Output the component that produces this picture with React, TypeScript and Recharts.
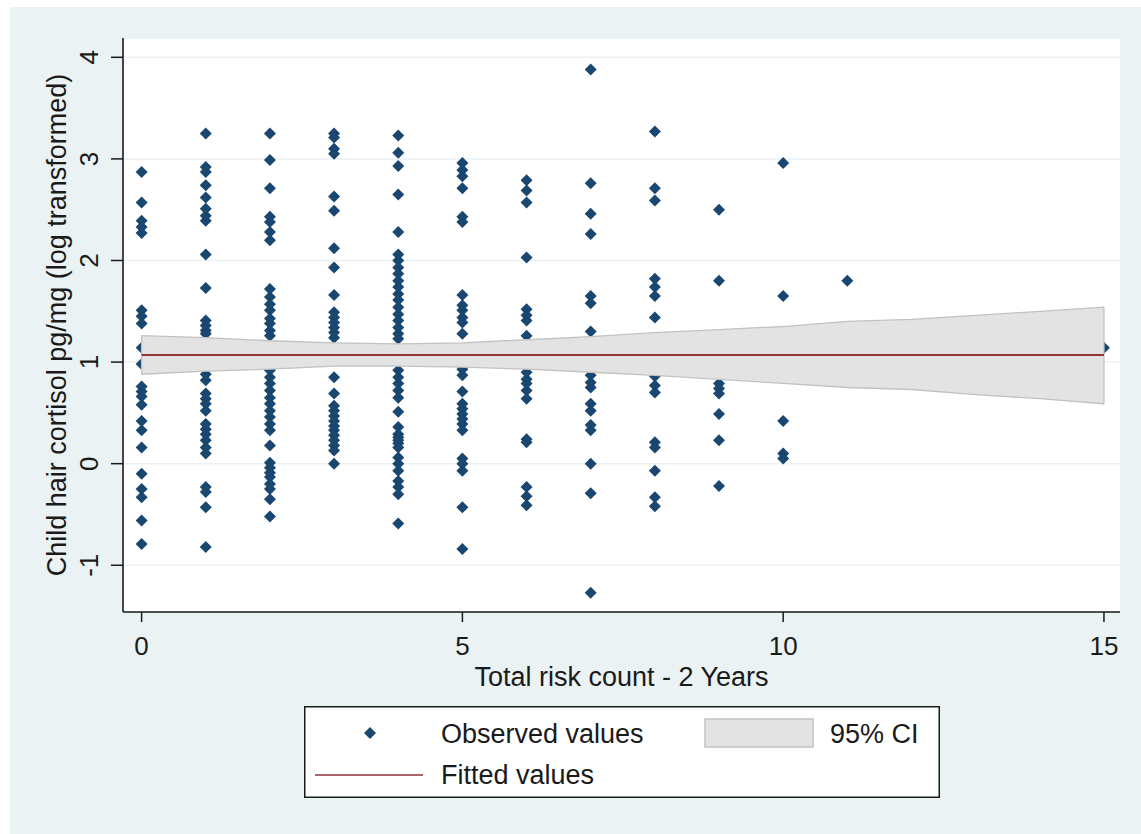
import React from "react";
import {
  ComposedChart,
  Scatter,
  Area,
  Line,
  XAxis,
  YAxis,
  CartesianGrid,
  Legend,
  Label,
  ReferenceLine,
} from "recharts";

// observed cortisol values, one array per risk count
const risk0 = [2.87, 2.57, 2.39, 2.33, 2.27, 1.51, 1.45, 1.38, 1.14, 0.98, 0.76, 0.71, 0.66, 0.58, 0.42, 0.33, 0.16, -0.1, -0.25, -0.33, -0.56, -0.79];
const risk1 = [3.25, 2.92, 2.87, 2.74, 2.62, 2.51, 2.44, 2.39, 2.06, 1.73, 1.41, 1.36, 1.31, 1.28, 1.1, 0.88, 0.82, 0.69, 0.64, 0.59, 0.52, 0.39, 0.34, 0.29, 0.23, 0.16, 0.1, -0.23, -0.28, -0.43, -0.82];
const risk2 = [3.25, 2.99, 2.71, 2.43, 2.38, 2.28, 2.2, 1.72, 1.64, 1.57, 1.51, 1.43, 1.38, 1.31, 1.26, 1.15, 1.05, 0.92, 0.85, 0.79, 0.72, 0.65, 0.59, 0.52, 0.46, 0.39, 0.33, 0.18, 0.01, -0.04, -0.09, -0.13, -0.2, -0.25, -0.35, -0.52];
const risk3 = [3.25, 3.21, 3.1, 3.05, 2.63, 2.49, 2.12, 1.93, 1.66, 1.49, 1.44, 1.39, 1.34, 1.29, 1.24, 1.1, 0.85, 0.69, 0.57, 0.52, 0.47, 0.42, 0.37, 0.33, 0.28, 0.23, 0.18, 0.13, 0.0];
const risk4 = [3.23, 3.06, 2.93, 2.65, 2.28, 2.06, 2.0, 1.93, 1.87, 1.8, 1.74, 1.67, 1.61, 1.54, 1.47, 1.41, 1.34, 1.28, 1.23, 1.05, 0.92, 0.85, 0.79, 0.72, 0.65, 0.51, 0.36, 0.29, 0.26, 0.23, 0.2, 0.16, 0.06, 0.0, -0.07, -0.17, -0.23, -0.3, -0.59];
const risk5 = [2.96, 2.89, 2.83, 2.71, 2.43, 2.38, 1.66, 1.56, 1.51, 1.44, 1.39, 1.28, 1.08, 0.93, 0.87, 0.71, 0.59, 0.54, 0.49, 0.44, 0.39, 0.33, 0.05, 0.0, -0.07, -0.43, -0.84];
const risk6 = [2.79, 2.69, 2.57, 2.03, 1.52, 1.46, 1.41, 1.26, 0.9, 0.83, 0.79, 0.72, 0.64, 0.24, 0.21, -0.23, -0.32, -0.41];
const risk7 = [3.88, 2.76, 2.46, 2.26, 1.65, 1.58, 1.3, 0.87, 0.8, 0.75, 0.59, 0.52, 0.38, 0.33, 0.0, -0.29, -1.27];
const risk8 = [3.27, 2.71, 2.59, 1.82, 1.74, 1.65, 1.44, 0.86, 0.77, 0.7, 0.21, 0.16, -0.07, -0.33, -0.42];
const risk9 = [2.5, 1.8, 0.79, 0.74, 0.69, 0.49, 0.23, -0.22];
const risk10 = [2.96, 1.65, 0.42, 0.1, 0.05];
const risk11 = [1.8];
const risk15 = [1.14];

const observedColumns: [number, number[]][] = [
  [0, risk0], [1, risk1], [2, risk2], [3, risk3], [4, risk4], [5, risk5], [6, risk6],
  [7, risk7], [8, risk8], [9, risk9], [10, risk10], [11, risk11], [15, risk15],
];

const fitX = [0, 1, 2, 3, 4, 5, 6, 7, 8, 9, 10, 11, 12, 13, 14, 15];
const ciLow = [0.88, 0.91, 0.93, 0.96, 0.96, 0.95, 0.93, 0.9, 0.87, 0.83, 0.79, 0.75, 0.73, 0.68, 0.64, 0.59];
const ciHigh = [1.26, 1.24, 1.21, 1.19, 1.18, 1.19, 1.22, 1.25, 1.29, 1.32, 1.35, 1.4, 1.42, 1.46, 1.5, 1.54];
const fitted = [1.07, 1.07, 1.07, 1.07, 1.07, 1.07, 1.07, 1.07, 1.07, 1.07, 1.07, 1.07, 1.07, 1.07, 1.07, 1.07];

const xTicks = [0, 5, 10, 15];
const yTicks = [-1, 0, 1, 2, 3, 4];

const observed = observedColumns.flatMap(([x, ys]) => ys.map((y) => ({ x, y })));
const fitData = fitX.map((x, i) => ({ x, ci: [ciLow[i], ciHigh[i]], fit: fitted[i] }));

const FONT = '"Liberation Sans", Arial, sans-serif';
const NAVY = "#1a476f";
const MAROON = "#90353b";
const BAND = "#e3e3e3";
const BAND_EDGE = "#c2c2c2";
const PANEL = "#eaf2f3";
const INK = "#1a1a1a";

function Diamond(props: any) {
  const { cx, cy } = props;
  if (cx == null || cy == null) return null;
  const r = 6;
  return <path d={`M${cx},${cy - r}L${cx + r},${cy}L${cx},${cy + r}L${cx - r},${cy}Z`} fill={NAVY} />;
}

function XTick({ x, y, payload }: any) {
  return (
    <text x={x} y={y + 33} textAnchor="middle" fontSize={26} fontFamily={FONT} fill={INK}>
      {payload.value}
    </text>
  );
}

function YTick({ x, y, payload }: any) {
  const tx = x - 13;
  return (
    <text x={tx} y={y} transform={`rotate(-90 ${tx} ${y})`} textAnchor="middle" fontSize={26} fontFamily={FONT} fill={INK}>
      {payload.value}
    </text>
  );
}

function XTitle(props: any) {
  const vb = props.viewBox || { x: 123, y: 612, width: 997 };
  return (
    <text x={vb.x + vb.width / 2} y={vb.y + 74} textAnchor="middle" fontSize={27} fontFamily={FONT} fill={INK}>
      Total risk count - 2 Years
    </text>
  );
}

function YTitle(props: any) {
  const vb = props.viewBox || { x: 0, y: 38, height: 574 };
  const tx = vb.x + 66;
  const ty = vb.y + vb.height / 2;
  return (
    <text x={tx} y={ty} transform={`rotate(-90 ${tx} ${ty})`} textAnchor="middle" fontSize={27} fontFamily={FONT} fill={INK}>
      Child hair cortisol pg/mg (log transformed)
    </text>
  );
}

function StataLegend() {
  const txt = { fontSize: 27, fontFamily: FONT, fill: INK };
  return (
    <svg width={636} height={92} style={{ display: "block" }}>
      <rect x={0.75} y={0.75} width={634.5} height={90.5} fill="#fff" stroke={INK} strokeWidth={1.5} />
      <Diamond cx={66} cy={27} />
      <text x={137} y={37} {...txt}>Observed values</text>
      <rect x={401} y={13} width={108} height={28} fill={BAND} stroke={BAND_EDGE} strokeWidth={1.5} />
      <text x={526} y={37} {...txt}>95% CI</text>
      <line x1={11} x2={119} y1={69} y2={69} stroke={MAROON} strokeWidth={1.5} />
      <text x={137} y={78} {...txt}>Fitted values</text>
    </svg>
  );
}

export default function App() {
  return (
    <div style={{ position: "absolute", left: 0, top: 0, width: 1141, height: 834, background: "#fff" }}>
      <div style={{ position: "absolute", left: 10, top: 7, right: 0, bottom: 0, background: PANEL }} />
      <div style={{ position: "absolute", left: 0, top: 0 }}>
        <ComposedChart
          width={1141}
          height={834}
          data={fitData}
          margin={{ top: 38, right: 21, bottom: 162, left: 0 }}
          style={{ fontFamily: FONT }}
        >
          <CartesianGrid vertical={false} stroke={PANEL} strokeWidth={1.5} fill="#fff" fillOpacity={1} />
          <XAxis
            type="number"
            dataKey="x"
            domain={[-0.29, 15.25]}
            allowDataOverflow
            ticks={xTicks}
            height={60}
            tickSize={10}
            tickMargin={0}
            tick={<XTick />}
            axisLine={{ stroke: INK, strokeWidth: 1.6 }}
            tickLine={{ stroke: INK, strokeWidth: 1.5 }}
          >
            <Label content={<XTitle />} />
          </XAxis>
          <YAxis
            type="number"
            domain={[-1.46, 4.19]}
            allowDataOverflow
            ticks={yTicks}
            width={123}
            tickSize={12}
            tickMargin={0}
            tick={<YTick />}
            axisLine={{ stroke: INK, strokeWidth: 1.6 }}
            tickLine={{ stroke: INK, strokeWidth: 1.5 }}
          >
            <Label content={<YTitle />} />
          </YAxis>
          <Scatter
            data={observed}
            dataKey="y"
            shape={<Diamond />}
            isAnimationActive={false}
            zIndex={50}
          />
          <Area
            type="linear"
            dataKey="ci"
            fill={BAND}
            fillOpacity={1}
            stroke={BAND_EDGE}
            strokeWidth={1.3}
            dot={false}
            activeDot={false}
            isAnimationActive={false}
          />
          <ReferenceLine
            segment={[{ x: fitX[0], y: ciLow[0] }, { x: fitX[0], y: ciHigh[0] }]}
            stroke={BAND_EDGE}
            strokeWidth={1.3}
          />
          <ReferenceLine
            segment={[
              { x: fitX[fitX.length - 1], y: ciLow[ciLow.length - 1] },
              { x: fitX[fitX.length - 1], y: ciHigh[ciHigh.length - 1] },
            ]}
            stroke={BAND_EDGE}
            strokeWidth={1.3}
          />
          <Line
            type="linear"
            dataKey="fit"
            stroke={MAROON}
            strokeWidth={2}
            dot={false}
            activeDot={false}
            isAnimationActive={false}
          />
          <Legend
            layout="horizontal"
            verticalAlign="middle"
            align="center"
            content={<StataLegend />}
            wrapperStyle={{ left: 304, top: 706, width: 636, height: 92, bottom: "auto" }}
          />
        </ComposedChart>
      </div>
    </div>
  );
}
